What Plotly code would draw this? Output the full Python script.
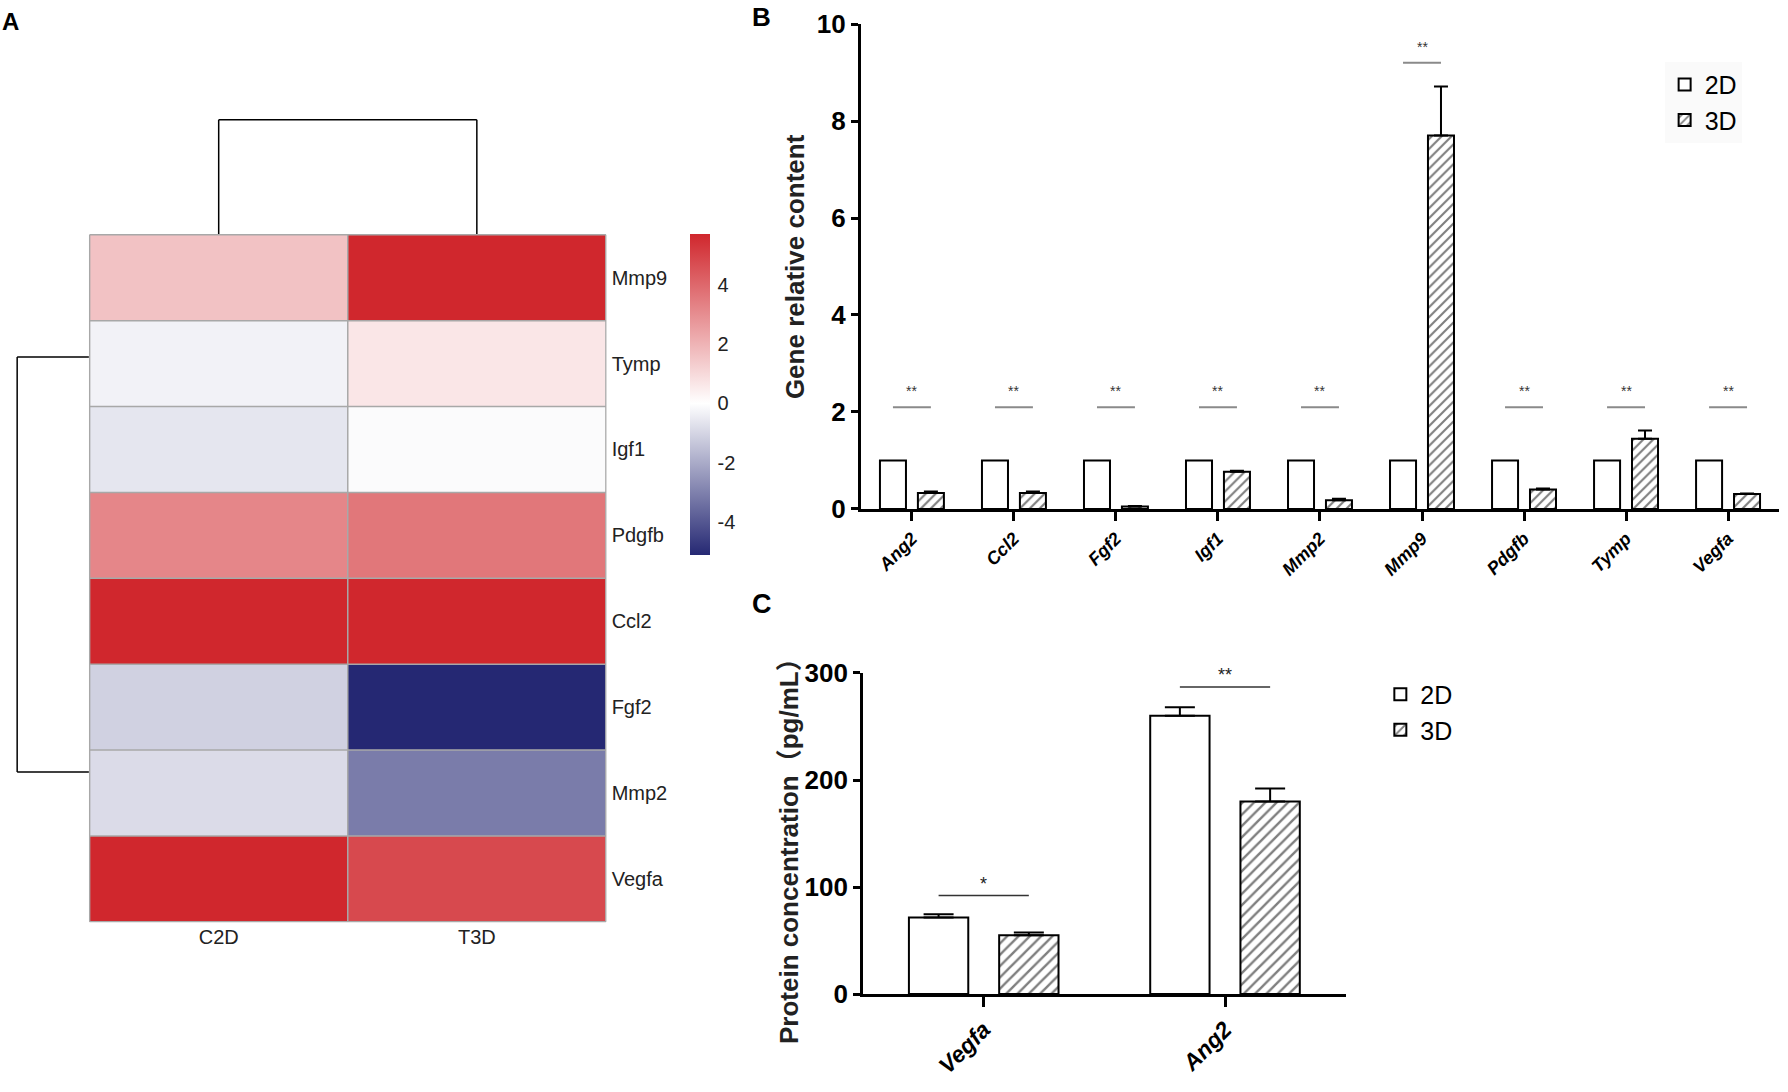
import plotly.graph_objects as go

# ---------------- Panel A: heatmap ----------------
genes_hm = ["Mmp9", "Tymp", "Igf1", "Pdgfb", "Ccl2", "Fgf2", "Mmp2", "Vegfa"]
samples_hm = ["C2D", "T3D"]
z_c2d = [1.6, -0.3, -0.6, 3.2, 5.7, -1.1, -0.85, 5.7]
z_t3d = [5.7, 0.65, -0.1, 3.6, 5.7, -5.1, -3.1, 4.8]
cbar_ticks = [-4, -2, 0, 2, 4]
cbar_text = ["-4", "-2", "0", "2", "4"]

# ---------------- Panel B: gene relative content ----------------
genes_b = ["Ang2", "Ccl2", "Fgf2", "Igf1", "Mmp2", "Mmp9", "Pdgfb", "Tymp", "Vegfa"]
b_2d = [1, 1, 1, 1, 1, 1, 1, 1, 1]
b_3d = [0.33, 0.33, 0.05, 0.77, 0.18, 7.70, 0.40, 1.45, 0.31]
b_3d_err = [0.03, 0.03, 0.01, 0.02, 0.03, 1.01, 0.02, 0.17, 0.01]
b_sig_y = [2.1, 2.1, 2.1, 2.1, 2.1, 9.2, 2.1, 2.1, 2.1]
b_sig = ["**", "**", "**", "**", "**", "**", "**", "**", "**"]
b_ticks = [0, 2, 4, 6, 8, 10]

# ---------------- Panel C: protein concentration ----------------
prot_c = ["Vegfa", "Ang2"]
c_2d = [71.5, 260]
c_2d_err = [3, 8]
c_3d = [55, 180]
c_3d_err = [2.5, 12]
c_sig_y = [92, 287]
c_sig = ["*", "**"]
c_ticks = [0, 100, 200, 300]

ARIAL = "Liberation Sans, Arial, sans-serif"

BW = 0.255       # bar width (category units)
BOFF = 0.186     # half distance between bar centres
CW = 0.246
COFF = 0.187

# layout geometry (paper fractions)
HM_X = [0.0497, 0.3393]
HM_Y = [0.1552, 0.7857]
B_X = [0.4815, 0.995]
B_Y = [0.5339, 0.978]
C_X = [0.4827, 0.7526]
C_Y = [0.0897, 0.3837]

HATCH_B = dict(shape="/", fgcolor="black", bgcolor="white", size=7, solidity=0.3)
HATCH_C = dict(shape="/", fgcolor="black", bgcolor="white", size=8, solidity=0.3)

fig = go.Figure()

fig.add_trace(go.Heatmap(
    z=[[a, b] for a, b in zip(z_c2d, z_t3d)],
    x=samples_hm, y=genes_hm, xaxis="x", yaxis="y",
    zmin=-5.1, zmax=5.7,
    colorscale=[[0, "rgb(37,40,115)"], [5.1 / 10.8, "rgb(255,255,255)"], [1, "rgb(208,39,45)"]],
    colorbar=dict(x=0.3859, xanchor="left", xpad=0, ypad=0, y=HM_Y[1], yanchor="top", len=0.294,
                  lenmode="fraction", thickness=20, outlinewidth=0,
                  tickvals=cbar_ticks, ticktext=cbar_text,
                  ticks="outside", ticklen=4, tickcolor="rgba(0,0,0,0)",
                  tickfont=dict(family=ARIAL, size=20, color="#222")),
    showscale=True, hoverinfo="skip",
))

# Panel B bars
fig.add_trace(go.Bar(
    x=genes_b, y=b_2d, name="2D", xaxis="x2", yaxis="y2", legend="legend",
    width=BW, offset=-BOFF - BW / 2,
    marker=dict(color="white", line=dict(color="black", width=2)),
))
fig.add_trace(go.Bar(
    x=genes_b, y=b_3d, name="3D", xaxis="x2", yaxis="y2", legend="legend",
    width=BW, offset=BOFF - BW / 2,
    marker=dict(color="white", line=dict(color="black", width=2), pattern=HATCH_B),
    error_y=dict(type="data", array=b_3d_err, arrayminus=[0] * len(b_3d_err),
                 symmetric=False, color="black", thickness=2, width=7),
))

# Panel C bars
fig.add_trace(go.Bar(
    x=prot_c, y=c_2d, name="2D", xaxis="x3", yaxis="y3", legend="legend2",
    width=CW, offset=-COFF - CW / 2,
    marker=dict(color="white", line=dict(color="black", width=2)),
    error_y=dict(type="data", array=c_2d_err, arrayminus=[0] * len(c_2d_err),
                 symmetric=False, color="black", thickness=2, width=15),
))
fig.add_trace(go.Bar(
    x=prot_c, y=c_3d, name="3D", xaxis="x3", yaxis="y3", legend="legend2",
    width=CW, offset=COFF - CW / 2,
    marker=dict(color="white", line=dict(color="black", width=2), pattern=HATCH_C),
    error_y=dict(type="data", array=c_3d_err, arrayminus=[0] * len(c_3d_err),
                 symmetric=False, color="black", thickness=2, width=15),
))

shapes = []
# heatmap cell borders
for i in range(len(samples_hm) + 1):
    shapes.append(dict(type="line", xref="x", yref="y", x0=i - 0.5, x1=i - 0.5,
                       y0=-0.5, y1=len(genes_hm) - 0.5, line=dict(color="#a8a8a8", width=1.5)))
for j in range(len(genes_hm) + 1):
    shapes.append(dict(type="line", xref="x", yref="y", x0=-0.5, x1=len(samples_hm) - 0.5,
                       y0=j - 0.5, y1=j - 0.5, line=dict(color="#a8a8a8", width=1.5)))

# dendrograms
dcol_top = 0.8904
dk = dict(color="black", width=1.5)
shapes += [
    dict(type="line", xref="x", yref="paper", x0=0, x1=0, y0=HM_Y[1], y1=dcol_top, line=dk),
    dict(type="line", xref="x", yref="paper", x0=1, x1=1, y0=HM_Y[1], y1=dcol_top, line=dk),
    dict(type="line", xref="x", yref="paper", x0=0, x1=1, y0=dcol_top, y1=dcol_top, line=dk),
]
drow_x = 0.0096
drow_y = [0.673, 0.293]
shapes.append(dict(type="line", xref="paper", yref="paper", x0=drow_x, x1=drow_x,
                   y0=drow_y[0], y1=drow_y[1], line=dk))
for yy in drow_y:
    shapes.append(dict(type="line", xref="paper", yref="paper", x0=drow_x, x1=HM_X[0],
                       y0=yy, y1=yy, line=dk))

annotations = []
# significance B
for i, (yy, s) in enumerate(zip(b_sig_y, b_sig)):
    shapes.append(dict(type="line", xref="x2", yref="y2", x0=i - BOFF, x1=i + BOFF,
                       y0=yy, y1=yy, line=dict(color="#8a8a8a", width=2)))
    annotations.append(dict(xref="x2", yref="y2", x=i, y=yy, yshift=16, text=s,
                            xanchor="center", yanchor="middle",
                            showarrow=False, font=dict(family=ARIAL, size=14, color="#333")))
# significance C
for i, (yy, s) in enumerate(zip(c_sig_y, c_sig)):
    shapes.append(dict(type="line", xref="x3", yref="y3", x0=i - COFF, x1=i + COFF,
                       y0=yy, y1=yy, line=dict(color="#333", width=1.5)))
    annotations.append(dict(xref="x3", yref="y3", x=i, y=yy, yshift=12, text=s,
                            xanchor="center", yanchor="middle",
                            showarrow=False, font=dict(family=ARIAL, size=18, color="#222")))

# axis titles
annotations.append(dict(xref="paper", yref="paper", x=0.445, y=0.756, text="Gene relative content",
                        textangle=-90, showarrow=False, xanchor="center", yanchor="middle",
                        font=dict(family=ARIAL, size=26, weight="bold", color="#222")))
annotations.append(dict(xref="paper", yref="paper", x=0.4413, y=0.2262,
                        text="Protein concentration（pg/mL）",
                        textangle=-90, showarrow=False, xanchor="center", yanchor="middle",
                        font=dict(family=ARIAL + ", Noto Sans CJK SC", size=26, weight="bold", color="#222")))
# panel letters
for lbl, xx, yy, sz in [("A", 0.0056, 0.980, 24), ("B", 0.426, 0.9845, 26), ("C", 0.426, 0.4465, 27)]:
    annotations.append(dict(xref="paper", yref="paper", x=xx, y=yy, text=lbl, showarrow=False,
                            xanchor="center", yanchor="middle",
                            font=dict(family=ARIAL, size=sz, weight="bold", color="black")))

axis_common = dict(showgrid=False, zeroline=False, automargin=False)

fig.update_layout(
    width=1788, height=1092,
    margin=dict(l=0, r=0, t=0, b=0, pad=0, autoexpand=False),
    paper_bgcolor="white", plot_bgcolor="white",
    showlegend=True,
    shapes=shapes, annotations=annotations,
    xaxis=dict(domain=HM_X, anchor="y", showline=False, ticks="", side="bottom",
               tickfont=dict(family=ARIAL, size=20, color="#222"), **axis_common),
    yaxis=dict(domain=HM_Y, anchor="x", showline=False, ticks="", side="right",
               autorange="reversed", ticklabelstandoff=4,
               tickfont=dict(family=ARIAL, size=20, color="#222"), **axis_common),
    xaxis2=dict(domain=B_X, anchor="y2", range=[-0.5, len(genes_b) - 0.5],
                showline=True, linecolor="black", linewidth=3,
                ticks="outside", ticklen=9, tickwidth=2.5, tickcolor="black", tickangle=-45,
                tickfont=dict(family=ARIAL, size=18, weight="bold", style="italic", color="black"),
                **axis_common),
    yaxis2=dict(domain=B_Y, anchor="x2", range=[0, 10], tickvals=b_ticks,
                showline=True, linecolor="black", linewidth=3,
                ticks="outside", ticklen=7, tickwidth=2.5, tickcolor="black",
                tickfont=dict(family=ARIAL, size=26, weight="bold", color="black"),
                **axis_common),
    xaxis3=dict(domain=C_X, anchor="y3", range=[-0.5, len(prot_c) - 0.5],
                showline=True, linecolor="black", linewidth=3,
                ticks="outside", ticklen=10, tickwidth=2.5, tickcolor="black", tickangle=-45,
                tickfont=dict(family=ARIAL, size=23, weight="bold", style="italic", color="black"),
                **axis_common),
    yaxis3=dict(domain=C_Y, anchor="x3", range=[0, 300], tickvals=c_ticks,
                showline=True, linecolor="black", linewidth=3,
                ticks="outside", ticklen=7, tickwidth=2.5, tickcolor="black",
                tickfont=dict(family=ARIAL, size=26, weight="bold", color="black"),
                **axis_common),
    barmode="overlay",
    legend=dict(x=0.931, xanchor="left", y=0.9435, yanchor="top", bgcolor="#fafafa",
                font=dict(family=ARIAL, size=25, color="black"), tracegroupgap=2),
    legend2=dict(x=0.772, xanchor="left", y=0.385, yanchor="top", bgcolor="rgba(0,0,0,0)",
                 font=dict(family=ARIAL, size=25, color="black"), tracegroupgap=2),
)

fig.write_html("out.html", config={"displayModeBar": False},
               post_script="document.body.style.margin='0';")
